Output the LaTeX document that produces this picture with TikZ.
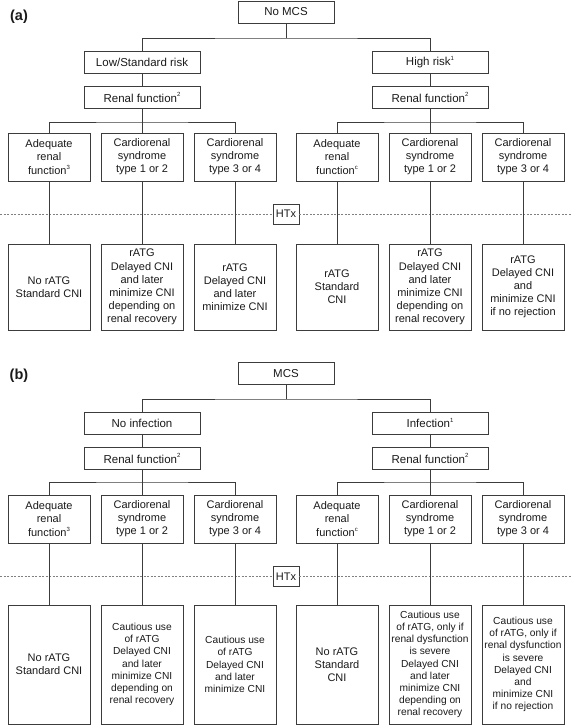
\documentclass[tikz,border=0pt]{standalone}
\usepackage{fontspec}
\setmainfont{Liberation Sans}
\definecolor{edgegray}{HTML}{3C3C3C}
\definecolor{inkgray}{HTML}{1A1A1A}
\newcommand{\fnote}[1]{\raisebox{0.45em}{\fontsize{6}{6}\selectfont #1}}
\tikzset{
  box/.style={draw=edgegray, line width=0.9pt, align=center, inner sep=1pt,
    text=inkgray, font=\fontsize{11}{13.1}\selectfont},
  headbox/.style={box, minimum width=96, minimum height=22, font=\fontsize{11.5}{13}\selectfont},
  branchbox/.style={box, minimum width=116, minimum height=22, font=\fontsize{11.5}{13}\selectfont},
  condbox/.style={box, minimum width=82, minimum height=48},
  txbox/.style={box, minimum width=82, minimum height=86},
  txtall/.style={box, minimum width=82, minimum height=119},
  txsmall/.style={txtall, font=\fontsize{10.2}{12.2}\selectfont},
  htxbox/.style={box, minimum width=26, minimum height=20, inner sep=0pt},
  link/.style={draw=edgegray, line width=0.9pt},
  htxline/.style={draw=gray, line width=0.7pt, dash pattern=on 2pt off 1.5pt},
  panel/.style={font=\fontsize{14.5}{16}\selectfont\bfseries, text=inkgray}
}
\begin{document}
\begin{tikzpicture}[x=1pt, y=-1pt]
  \useasboundingbox (0,0) rectangle (572,725);

  % (a) No MCS
  \node[panel] (labela) at (19,16.7) {(a)};
  \node[headbox] (nomcs) at (286,12) {No MCS};
  \node[branchbox] (lowrisk) at (142,62) {Low/Standard risk};
  \node[branchbox] (highrisk) at (430,62) {High risk\fnote{1}};
  \node[branchbox] (renalal) at (142,97.5) {Renal function\fnote{2}};
  \node[branchbox] (renalar) at (430,97.5) {Renal function\fnote{2}};

  \node[condbox] (condal1) at (49,157) {Adequate\\renal\\function\fnote{3}};
  \node[condbox] (condal2) at (142,157) {Cardiorenal\\syndrome\\type 1 or 2};
  \node[condbox] (condal3) at (235,157) {Cardiorenal\\syndrome\\type 3 or 4};
  \node[condbox] (condar1) at (337,157) {Adequate\\renal\\function\fnote{c}};
  \node[condbox] (condar2) at (430,157) {Cardiorenal\\syndrome\\type 1 or 2};
  \node[condbox] (condar3) at (523,157) {Cardiorenal\\syndrome\\type 3 or 4};

  \node[htxbox] (htxa) at (286,214) {HTx};
  \coordinate (dashal) at (0,214);
  \coordinate (dashar) at (572,214);
  \draw[htxline] (dashal) -- (htxa);
  \draw[htxline] (htxa) -- (dashar);

  \node[txbox] (txal1) at (49,287) {No rATG\\Standard CNI};
  \node[txbox] (txal2) at (142,287) {rATG\\Delayed CNI\\and later\\minimize CNI\\depending on\\renal recovery};
  \node[txbox] (txal3) at (235,287) {rATG\\Delayed CNI\\and later\\minimize CNI};
  \node[txbox] (txar1) at (337,287) {rATG\\Standard\\CNI};
  \node[txbox] (txar2) at (430,287) {rATG\\Delayed CNI\\and later\\minimize CNI\\depending on\\renal recovery};
  \node[txbox] (txar3) at (523,287) {rATG\\Delayed CNI\\and\\minimize CNI\\if no rejection};

  \coordinate (ja) at (286,38);
  \coordinate (jal) at (142,122);
  \coordinate (jar) at (430,122);
  \draw[link] (nomcs) -- (ja);
  \draw[link] (lowrisk) |- (ja) -| (highrisk);
  \draw[link] (lowrisk) -- (renalal);
  \draw[link] (highrisk) -- (renalar);
  \draw[link] (renalal) -- (condal2);
  \draw[link] (renalar) -- (condar2);
  \draw[link] (condal1) |- (jal) -| (condal3);
  \draw[link] (condar1) |- (jar) -| (condar3);
  \foreach \k in {1,2,3} {
    \draw[link] (condal\k) -- (txal\k);
    \draw[link] (condar\k) -- (txar\k);
  }

  % (b) MCS
  \begin{scope}[yshift=-362pt]
    \node[panel] (labelb) at (19,13.8) {(b)};
    \node[headbox] (mcs) at (286,11.5) {MCS};
    \node[branchbox] (noinf) at (142,61) {No infection};
    \node[branchbox] (inf) at (430,61) {Infection\fnote{1}};
    \node[branchbox] (renalbl) at (142,96.5) {Renal function\fnote{2}};
    \node[branchbox] (renalbr) at (430,96.5) {Renal function\fnote{2}};

    \node[condbox] (condbl1) at (49,157) {Adequate\\renal\\function\fnote{3}};
    \node[condbox] (condbl2) at (142,157) {Cardiorenal\\syndrome\\type 1 or 2};
    \node[condbox] (condbl3) at (235,157) {Cardiorenal\\syndrome\\type 3 or 4};
    \node[condbox] (condbr1) at (337,157) {Adequate\\renal\\function\fnote{c}};
    \node[condbox] (condbr2) at (430,157) {Cardiorenal\\syndrome\\type 1 or 2};
    \node[condbox] (condbr3) at (523,157) {Cardiorenal\\syndrome\\type 3 or 4};

    \node[htxbox] (htxb) at (286,214.5) {HTx};
    \coordinate (dashbl) at (0,214.5);
    \coordinate (dashbr) at (572,214.5);
    \draw[htxline] (dashbl) -- (htxb);
    \draw[htxline] (htxb) -- (dashbr);

    \node[txtall] (txbl1) at (49,302.5) {No rATG\\Standard CNI};
    \node[txsmall] (txbl2) at (142,302.5) {Cautious use\\of rATG\\Delayed CNI\\and later\\minimize CNI\\depending on\\renal recovery};
    \node[txsmall] (txbl3) at (235,302.5) {Cautious use\\of rATG\\Delayed CNI\\and later\\minimize CNI};
    \node[txtall] (txbr1) at (337,302.5) {No rATG\\Standard\\CNI};
    \node[txsmall] (txbr2) at (430,302.5) {Cautious use\\of rATG, only if\\renal dysfunction\\is severe\\Delayed CNI\\and later\\minimize CNI\\depending on\\renal recovery};
    \node[txsmall] (txbr3) at (523,302.5) {Cautious use\\of rATG, only if\\renal dysfunction\\is severe\\Delayed CNI\\and\\minimize CNI\\if no rejection};

    \coordinate (jb) at (286,37);
    \coordinate (jbl) at (142,120);
    \coordinate (jbr) at (430,120);
    \draw[link] (mcs) -- (jb);
    \draw[link] (noinf) |- (jb) -| (inf);
    \draw[link] (noinf) -- (renalbl);
    \draw[link] (inf) -- (renalbr);
    \draw[link] (renalbl) -- (condbl2);
    \draw[link] (renalbr) -- (condbr2);
    \draw[link] (condbl1) |- (jbl) -| (condbl3);
    \draw[link] (condbr1) |- (jbr) -| (condbr3);
    \foreach \k in {1,2,3} {
      \draw[link] (condbl\k) -- (txbl\k);
      \draw[link] (condbr\k) -- (txbr\k);
    }
  \end{scope}
\end{tikzpicture}
\end{document}
